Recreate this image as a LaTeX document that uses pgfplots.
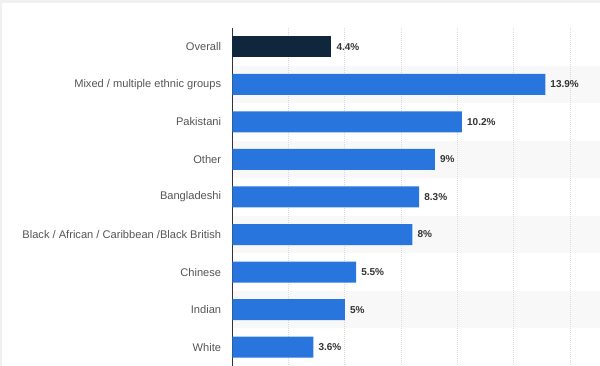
\documentclass[border=0pt]{standalone}
\usepackage{fontspec}
\setmainfont{Liberation Sans}
\usepackage{pgfplots}
\pgfplotsset{compat=1.18}
\definecolor{barblue}{HTML}{2876DD}
\definecolor{barnavy}{HTML}{10263D}
\definecolor{bandgray}{HTML}{F8F8F8}
\definecolor{gridgray}{HTML}{DADADA}
\definecolor{axisgray}{HTML}{333333}
\definecolor{labelgray}{HTML}{555555}
\definecolor{valgray}{HTML}{333333}
\definecolor{framegray}{HTML}{F0F0F0}
\begin{document}
\begin{tikzpicture}
\fill[framegray] (0,363pt) rectangle (600pt,366pt);
\fill[framegray] (0,0) rectangle (1.5pt,366pt);
\begin{axis}[
  set layers,
  at={(232.3pt,0pt)}, anchor=south west,
  scale only axis, width=367.7pt, height=338pt,
  xmin=0, xmax=16.33, ymin=-0.5, ymax=8.5, y dir=reverse,
  xbar, bar width=21pt, bar shift=0pt,
  ytick={0,...,8},
  yticklabels={Overall, Mixed / multiple ethnic groups, Pakistani, Other, Bangladeshi, Black / African / Caribbean /Black British, Chinese, Indian, White},
  xtick={2.5,5,7.5,10,12.5,15}, xticklabels={},
  xmajorgrids, ymajorgrids=false,
  grid style={draw=gridgray, dash pattern=on 1pt off 1pt, line width=0.8pt},
  extra x ticks={0}, extra x tick labels={},
  extra x tick style={grid style={draw=axisgray, solid, line width=1.2pt}},
  major tick length=0pt,
  axis line style={draw=none},
  yticklabel style={font=\fontsize{11.1}{13}\selectfont, text=labelgray, inner sep=0pt, xshift=-11pt},
  /pgf/number format/assume math mode=true,
  point meta=x,
  nodes near coords={\pgfmathprintnumber{\pgfplotspointmeta}\%},
  nodes near coords style={font=\fontsize{10}{12}\selectfont\bfseries, text=valgray, anchor=west, inner sep=0pt, xshift=5pt},
  clip=false,
]
\begin{pgfonlayer}{axis background}
\fill[bandgray] (axis cs:0,0.5) rectangle (axis cs:16.33,1.5);
\fill[bandgray] (axis cs:0,2.5) rectangle (axis cs:16.33,3.5);
\fill[bandgray] (axis cs:0,4.5) rectangle (axis cs:16.33,5.5);
\fill[bandgray] (axis cs:0,6.5) rectangle (axis cs:16.33,7.5);
\end{pgfonlayer}
\addplot[fill=barnavy, draw=none] coordinates {(4.4,0)};
\addplot[fill=barblue, draw=none] coordinates {(13.9,1) (10.2,2) (9,3) (8.3,4) (8,5) (5.5,6) (5,7) (3.6,8)};
\end{axis}
\pgfresetboundingbox
\useasboundingbox (0,0) rectangle (600pt,366pt);
\end{tikzpicture}
\end{document}
